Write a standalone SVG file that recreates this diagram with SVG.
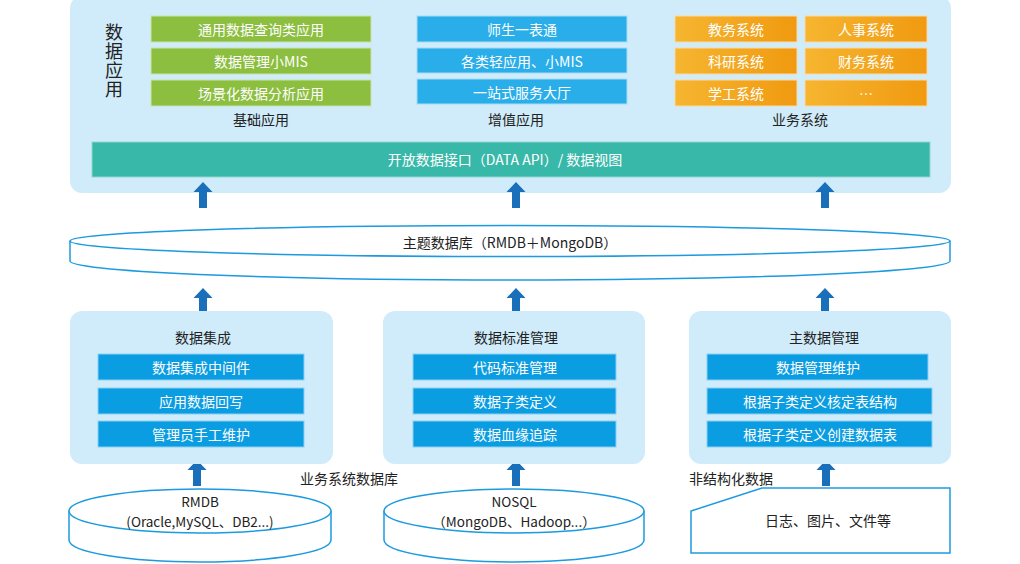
<svg xmlns="http://www.w3.org/2000/svg" xmlns:xlink="http://www.w3.org/1999/xlink" width="1020" height="564" viewBox="0 0 1020 564">
<defs>
<linearGradient id="og" x1="0" y1="0" x2="1" y2="0">
<stop offset="0" stop-color="#f6b530"/>
<stop offset="1" stop-color="#f09a10"/>
</linearGradient>
<path id="arr" d="M0,0 L9.5,10 L4,10 L4,26 L-4,26 L-4,10 L-9.5,10 Z"/>
</defs>
<style>
text{font-family:"Noto Sans CJK SC","Noto Sans",sans-serif;font-size:14px;text-anchor:middle;dominant-baseline:central}
.panel{fill:#d0ecfa}
.g{fill:#8cbe40;stroke:#c9e3a6;stroke-width:1}
.b{fill:#29aeea;stroke:#a8dcf5;stroke-width:1}
.o{fill:url(#og);stroke:#fbd9a0;stroke-width:1}
.d{fill:#0b9de2;stroke:#8ccff1;stroke-width:1}
.w{fill:#ffffff}
.k{fill:#222222}
.db{font-size:13.5px}
.line{fill:#ffffff;stroke:#1c9ae0;stroke-width:1.5}
.arrow{fill:#1a6fba}
</style>

<g id="top-panel">
<rect class="panel" x="70" y="-4" width="881" height="197" rx="12"/>
<text class="k" x="114" y="61.5" writing-mode="vertical-rl" style="font-size:18px;letter-spacing:1px">数据应用</text>
</g>

<g id="basic-apps">
<rect class="g" x="151" y="16" width="220" height="26"/>
<text class="w" x="261" y="29">通用数据查询类应用</text>
<rect class="g" x="151" y="48" width="220" height="26"/>
<text class="w" x="261" y="61">数据管理小MIS</text>
<rect class="g" x="151" y="80" width="220" height="26"/>
<text class="w" x="261" y="93">场景化数据分析应用</text>
<text class="k" x="261" y="119">基础应用</text>
</g>

<g id="value-apps">
<rect class="b" x="417" y="16" width="210" height="26"/>
<text class="w" x="522" y="29">师生一表通</text>
<rect class="b" x="417" y="48" width="210" height="25"/>
<text class="w" x="522" y="60.5">各类轻应用、小MIS</text>
<rect class="b" x="417" y="79" width="210" height="25"/>
<text class="w" x="522" y="91.5">一站式服务大厅</text>
<text class="k" x="516" y="119">增值应用</text>
</g>

<g id="business-systems">
<rect class="o" x="675" y="16" width="122" height="26"/>
<text class="w" x="736" y="29">教务系统</text>
<rect class="o" x="805" y="16" width="122" height="26"/>
<text class="w" x="866" y="29">人事系统</text>
<rect class="o" x="675" y="48" width="122" height="26"/>
<text class="w" x="736" y="61">科研系统</text>
<rect class="o" x="805" y="48" width="122" height="26"/>
<text class="w" x="866" y="61">财务系统</text>
<rect class="o" x="675" y="80" width="122" height="26"/>
<text class="w" x="736" y="93">学工系统</text>
<rect class="o" x="805" y="80" width="122" height="26"/>
<text class="w" x="866" y="93">…</text>
<text class="k" x="800" y="119">业务系统</text>
</g>

<g id="data-api">
<rect x="92" y="142" width="838" height="35" fill="#38b8a9" stroke="#8fd6cc" stroke-width="1"/>
<text class="w" x="505" y="159">开放数据接口（DATA API）/ 数据视图</text>
</g>

<g id="theme-db">
<path class="line" d="M70,241 L70,261 A440,19 0 0,0 950,261 L950,241"/>
<ellipse class="line" cx="510" cy="241" rx="440" ry="15.5"/>
<text class="k" x="510" y="242">主题数据库（RMDB＋MongoDB）</text>
</g>

<g id="connectors">
<use class="arrow" xlink:href="#arr" x="203" y="182"/>
<use class="arrow" xlink:href="#arr" x="516" y="182"/>
<use class="arrow" xlink:href="#arr" x="825" y="182"/>
<use class="arrow" xlink:href="#arr" x="203" y="288"/>
<use class="arrow" xlink:href="#arr" x="516" y="288"/>
<use class="arrow" xlink:href="#arr" x="825" y="288"/>
<use class="arrow" xlink:href="#arr" x="197" y="460"/>
<use class="arrow" xlink:href="#arr" x="516" y="460"/>
<use class="arrow" xlink:href="#arr" x="826" y="460"/>
</g>

<g id="data-integration">
<rect class="panel" x="70" y="311" width="263" height="153" rx="12"/>
<text class="k" x="203" y="337">数据集成</text>
<rect class="d" x="98" y="354" width="206" height="26"/>
<text class="w" x="201" y="367">数据集成中间件</text>
<rect class="d" x="98" y="388" width="206" height="26"/>
<text class="w" x="201" y="401">应用数据回写</text>
<rect class="d" x="98" y="421" width="206" height="26"/>
<text class="w" x="201" y="434">管理员手工维护</text>
</g>

<g id="data-standard">
<rect class="panel" x="383" y="311" width="262" height="153" rx="12"/>
<text class="k" x="516" y="337">数据标准管理</text>
<rect class="d" x="413" y="354" width="203" height="26"/>
<text class="w" x="515" y="367">代码标准管理</text>
<rect class="d" x="413" y="388" width="203" height="26"/>
<text class="w" x="515" y="401">数据子类定义</text>
<rect class="d" x="413" y="421" width="203" height="26"/>
<text class="w" x="515" y="434">数据血缘追踪</text>
</g>

<g id="master-data">
<rect class="panel" x="689" y="311" width="262" height="153" rx="12"/>
<text class="k" x="824" y="337">主数据管理</text>
<rect class="d" x="707" y="354" width="221" height="26"/>
<text class="w" x="818" y="367">数据管理维护</text>
<rect class="d" x="707" y="388" width="225" height="26"/>
<text class="w" x="820" y="401">根据子类定义核定表结构</text>
<rect class="d" x="707" y="421" width="225" height="26"/>
<text class="w" x="820" y="434">根据子类定义创建数据表</text>
</g>

<g id="label-business-db">
<text class="k" x="349" y="478">业务系统数据库</text>
</g>
<g id="label-unstructured">
<text class="k" x="731" y="478">非结构化数据</text>
</g>

<g id="rmdb">
<path class="line" d="M69,511 L69,540 A131,22 0 0,0 331,540 L331,511"/>
<ellipse class="line" cx="200" cy="511" rx="131" ry="22"/>
<text class="k db" x="200" y="501">RMDB</text>
<text class="k db" x="200" y="521">(Oracle,MySQL、DB2...)</text>
</g>

<g id="nosql">
<path class="line" d="M384,511 L384,540 A130,22 0 0,0 644,540 L644,511"/>
<ellipse class="line" cx="514" cy="511" rx="130" ry="22"/>
<text class="k db" x="514" y="501">NOSQL</text>
<text class="k db" x="514" y="521">（MongoDB、Hadoop...）</text>
</g>

<g id="unstructured">
<polygon class="line" points="691,511 762,488 950,488 950,553 691,553"/>
<text class="k" x="828" y="520">日志、图片、文件等</text>
</g>
</svg>
